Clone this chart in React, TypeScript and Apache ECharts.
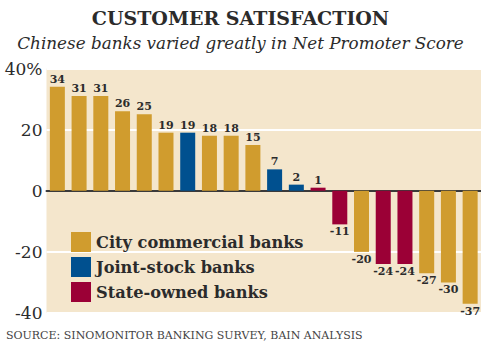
import React, { useEffect, useRef } from "react";
import * as echarts from "echarts";

const banks = ["B1","B2","B3","B4","B5","B6","B7","B8","B9","B10","B11","B12","B13","B14","B15","B16","B17","B18","B19","B20"];
const scores = [34, 31, 31, 26, 25, 19, 19, 18, 18, 15, 7, 2, 1, -11, -20, -24, -24, -27, -30, -37];
const types = ["city","city","city","city","city","city","joint","city","city","city","joint","joint","state","state","city","state","state","city","city","city"];
const groups = [
  { key: "city", name: "City commercial banks", color: "#D09C2E" },
  { key: "joint", name: "Joint-stock banks", color: "#00508F" },
  { key: "state", name: "State-owned banks", color: "#9B0036" },
];

const SERIF = "'DejaVu Serif', serif";

export default function App() {
  const ref = useRef<HTMLDivElement>(null);
  useEffect(() => {
    const chart = echarts.init(ref.current!, null, { renderer: "svg" });
    const series = groups.map((g) => ({
      type: "bar",
      name: g.name,
      barWidth: 15,
      barGap: "-100%",
      itemStyle: { color: g.color },
      label: {
        show: true,
        position: "top",
        distance: 2,
        fontFamily: SERIF,
        fontWeight: "bold",
        fontSize: 11,
        color: "#2b2b2b",
      },
      data: scores.map((v, i) =>
        types[i] === g.key
          ? v < 0
            ? { value: v, label: { position: "bottom" } }
            : { value: v }
          : null
      ),
    }));
    chart.setOption({
      animation: false,
      title: [
        {
          text: "CUSTOMER SATISFACTION",
          left: "center",
          top: 3,
          textStyle: { fontFamily: SERIF, fontWeight: "bold", fontSize: 19, color: "#2b2b2b" },
        },
        {
          text: "Chinese banks varied greatly in Net Promoter Score",
          left: "center",
          top: 29,
          textStyle: { fontFamily: SERIF, fontStyle: "italic", fontWeight: "normal", fontSize: 16.8, color: "#2b2b2b" },
        },
        {
          text: "SOURCE: SINOMONITOR BANKING SURVEY, BAIN ANALYSIS",
          left: 6,
          top: 329,
          padding: 0,
          textStyle: { fontFamily: SERIF, fontWeight: "normal", fontSize: 11, lineHeight: 13, color: "#444" },
        },
      ],
      legend: {
        orient: "vertical",
        left: 66,
        top: 227,
        itemWidth: 20,
        itemHeight: 20,
        itemGap: 5,
        icon: "rect",
        textStyle: { fontFamily: SERIF, fontWeight: "bold", fontSize: 16.2, color: "#2b2b2b" },
        data: groups.map((g) => g.name),
      },
      grid: {
        left: 46.5,
        right: -4,
        top: 68.5,
        bottom: 31,
        show: true,
        backgroundColor: "#F4E6CC",
        borderWidth: 0,
      },
      xAxis: {
        type: "category",
        data: banks,
        axisLine: { onZero: true, lineStyle: { color: "#3a3a3a", width: 2 } },
        axisTick: { show: false },
        axisLabel: { show: false },
      },
      yAxis: {
        type: "value",
        min: -40,
        max: 40,
        interval: 20,
        axisLine: { show: false },
        axisTick: { show: false },
        splitLine: { lineStyle: { color: "#ffffff", width: 2 } },
        axisLabel: {
          margin: 4,
          fontFamily: SERIF,
          fontSize: 17,
          color: "#2b2b2b",
          formatter: (v: number) => (v === 40 ? "40%" : String(v)),
        },
      },
      series,
    });
    return () => chart.dispose();
  }, []);
  return <div ref={ref} style={{ width: 481, height: 344, position: "absolute", left: 0, top: 0, background: "#fff" }} />;
}
